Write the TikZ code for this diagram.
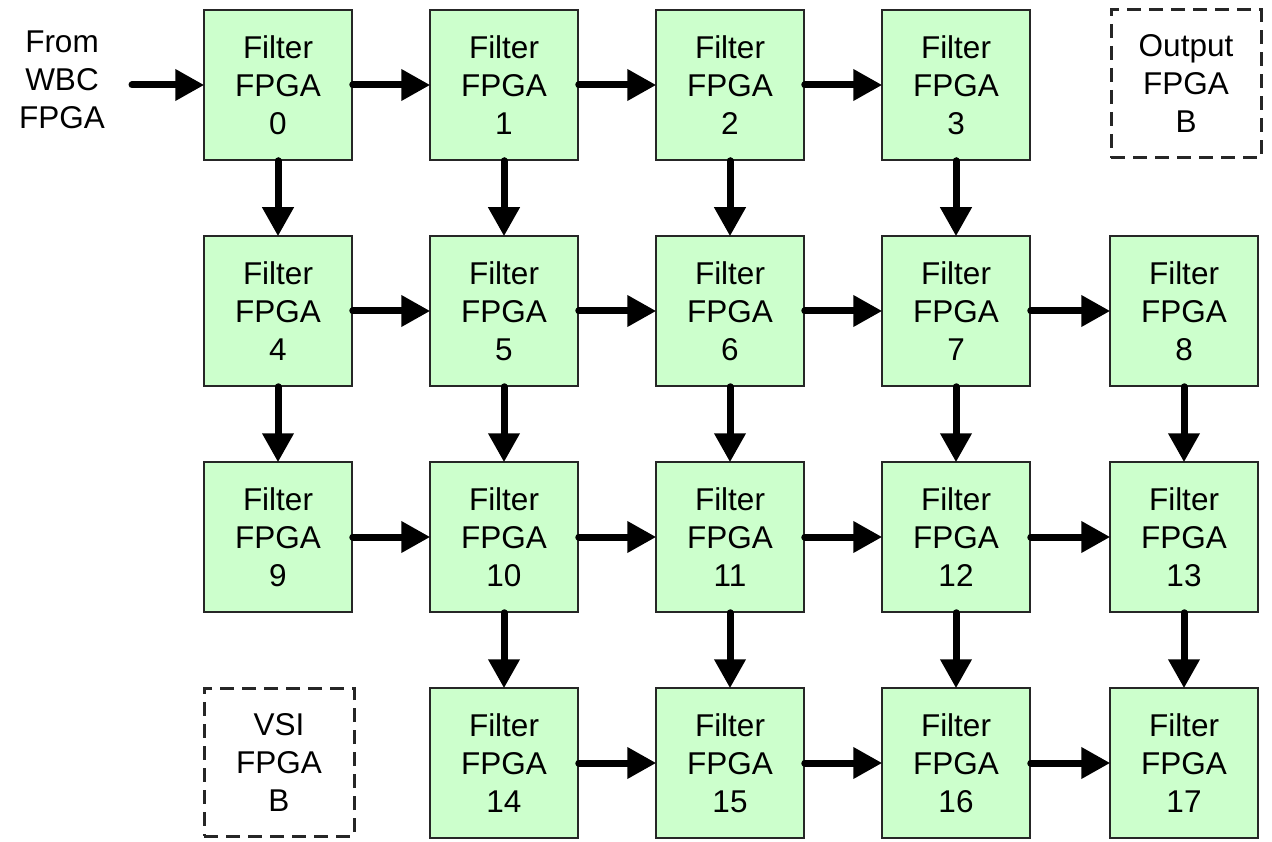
\documentclass[tikz,border=0pt]{standalone}
\usepackage{fontspec}
\setmainfont{Liberation Sans}
\usepackage{tikz}
\usetikzlibrary{arrows.meta}
\usepackage{xcolor}
\definecolor{fpgagreen}{HTML}{CCFFCC}

\tikzset{
  fpga/.style={draw=black!85, line width=1.5pt, fill=fpgagreen, minimum width=148pt, minimum height=150pt, align=center, inner sep=0pt, font=\fontsize{31.5}{38}\selectfont},
  ext/.style={draw=black!85, line width=3pt, dash pattern=on 14pt off 8pt, minimum width=150pt, minimum height=148pt, align=center, inner sep=0pt, font=\fontsize{31.5}{38}\selectfont},
  flow/.style={line width=7pt, line cap=round, -{Triangle[length=29pt,width=30pt]}, shorten >=-1pt}
}

\begin{document}
\begin{tikzpicture}[x=1pt, y=-1pt]
            \useasboundingbox (0,0) rectangle (1272,842);
            % first row
            \node[fpga] (f0) at (278,85) {Filter\\FPGA\\0};
            \node[fpga] (f1) at (504,85) {Filter\\FPGA\\1};
            \node[fpga] (f2) at (730,85) {Filter\\FPGA\\2};
            \node[fpga] (f3) at (956,85) {Filter\\FPGA\\3};
            \node[ext] (outb) at (1186,84) {Output\\FPGA\\B};
            % second row
            \node[fpga] (f4) at (278,311) {Filter\\FPGA\\4};
            \node[fpga] (f5) at (504,311) {Filter\\FPGA\\5};
            \node[fpga] (f6) at (730,311) {Filter\\FPGA\\6};
            \node[fpga] (f7) at (956,311) {Filter\\FPGA\\7};
            \node[fpga] (f8) at (1184,311) {Filter\\FPGA\\8};
            % third row
            \node[fpga] (f9) at (278,537) {Filter\\FPGA\\9};
            \node[fpga] (f10) at (504,537) {Filter\\FPGA\\10};
            \node[fpga] (f11) at (730,537) {Filter\\FPGA\\11};
            \node[fpga] (f12) at (956,537) {Filter\\FPGA\\12};
            \node[fpga] (f13) at (1184,537) {Filter\\FPGA\\13};
            % last row
            \node[ext] (vsib) at (279,762) {VSI\\FPGA\\B};
            \node[fpga] (f14) at (504,763) {Filter\\FPGA\\14};
            \node[fpga] (f15) at (730,763) {Filter\\FPGA\\15};
            \node[fpga] (f16) at (956,763) {Filter\\FPGA\\16};
            \node[fpga] (f17) at (1184,763) {Filter\\FPGA\\17};
            % input
            \node[align=center, font=\fontsize{31.5}{38}\selectfont] (wbc) at (62,80) {From\\WBC\\FPGA};
            \coordinate (wbcout) at (132,85);
            \draw[flow] (wbcout) -- (f0);
            % across
            \draw[flow] (f0) -- (f1); \draw[flow] (f1) -- (f2); \draw[flow] (f2) -- (f3);
            \draw[flow] (f4) -- (f5); \draw[flow] (f5) -- (f6); \draw[flow] (f6) -- (f7); \draw[flow] (f7) -- (f8);
            \draw[flow] (f9) -- (f10); \draw[flow] (f10) -- (f11); \draw[flow] (f11) -- (f12); \draw[flow] (f12) -- (f13);
            \draw[flow] (f14) -- (f15); \draw[flow] (f15) -- (f16); \draw[flow] (f16) -- (f17);
            % down
            \draw[flow] (f0) -- (f4); \draw[flow] (f1) -- (f5); \draw[flow] (f2) -- (f6); \draw[flow] (f3) -- (f7);
            \draw[flow] (f4) -- (f9); \draw[flow] (f5) -- (f10); \draw[flow] (f6) -- (f11); \draw[flow] (f7) -- (f12); \draw[flow] (f8) -- (f13);
            \draw[flow] (f10) -- (f14); \draw[flow] (f11) -- (f15); \draw[flow] (f12) -- (f16); \draw[flow] (f13) -- (f17);
        \end{tikzpicture}
\end{document}
